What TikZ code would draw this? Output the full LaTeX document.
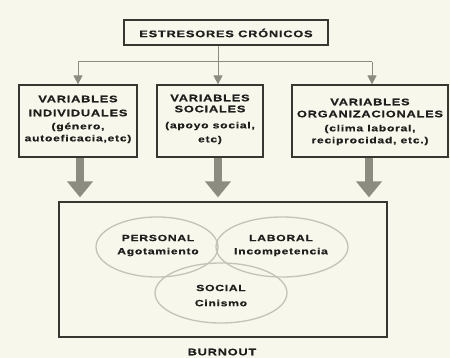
\documentclass[tikz,border=0pt]{standalone}
\usepackage{fontspec}
\setmainfont{Liberation Sans}
\newfontfamily\wide[FakeStretch=1.35,LetterSpace=8,FakeBold=0.6]{Liberation Sans}
\usetikzlibrary{arrows.meta,shapes.geometric,calc}
\definecolor{bg}{RGB}{248,247,236}
\definecolor{boxline}{RGB}{55,55,50}
\definecolor{arr}{RGB}{140,140,128}
\definecolor{ell}{RGB}{195,195,185}
\definecolor{txt}{RGB}{30,30,28}
\tikzset{
  box/.style={draw=boxline, line width=1.2pt, rectangle, inner sep=0pt},
  lbl/.style={font=\wide\bfseries\fontsize{9.5}{11}\selectfont, text=txt, align=center, inner sep=0pt},
  lbs/.style={font=\wide\bfseries\fontsize{9}{11}\selectfont, text=txt, align=center, inner sep=0pt},
  thin/.style={draw=arr, line width=1pt},
  thinarr/.style={thin, -{Triangle[width=9pt 0,length=9pt 0]}},
  fat/.style={draw=arr, line width=8pt, -{Triangle[width=25pt 0,length=16pt 0]}, shorten >=4pt},
  oval/.style={draw=ell, line width=1.3pt, ellipse, inner sep=0pt},
}
\begin{document}
\begin{tikzpicture}[x=1pt,y=-1pt]
\fill[bg] (0,0) rectangle (450,358);
\useasboundingbox (0,0) rectangle (450,358);

\node[box, minimum width=204pt, minimum height=25pt] (top) at (226,32.5) {};
\node[lbl] at (226,33) {ESTRESORES CRÓNICOS};

\node[box, minimum width=118pt, minimum height=72pt] (li) at (78,121) {};
\node[box, minimum width=106pt, minimum height=72pt] (mi) at (210,121) {};
\node[box, minimum width=156pt, minimum height=72pt] (ri) at (370,121) {};

\node[lbl] at (78,99) {VARIABLES};
\node[lbl] at (78,113) {INDIVIDUALES};
\node[lbs] at (78,127) {(género,};
\node[lbs] at (78,139) {autoeficacia,etc)};

\node[lbl] at (210,98) {VARIABLES};
\node[lbl] at (210,109) {SOCIALES};
\node[lbs] at (210,126) {(apoyo social,};
\node[lbs] at (210,140) {etc)};

\node[lbl] at (370,102) {VARIABLES};
\node[lbl] at (370,114) {ORGANIZACIONALES};
\node[lbs] at (370,129) {(clima laboral,};
\node[lbs] at (370,141) {reciprocidad, etc.)};

\coordinate (hl) at (78,62);
\coordinate (hm) at (218,62);
\coordinate (hr) at (372,62);
\draw[thin] (top.south -| hm) -- (hm);
\draw[thin] (hl) -- (hr);
\draw[thinarr] (hl) -- (hl |- li.north);
\draw[thinarr] (hm) -- (hm |- mi.north);
\draw[thinarr] (hr) -- (hr |- ri.north);

\node[box, minimum width=328pt, minimum height=135pt] (burn) at (223,269.5) {};
\node[lbl] (bl) at (222,352) {BURNOUT};

\coordinate (al) at (80,0);
\coordinate (am) at (218,0);
\coordinate (ar) at (369,0);
\draw[fat] (al |- li.south) -- (al |- burn.north);
\draw[fat] (am |- mi.south) -- (am |- burn.north);
\draw[fat] (ar |- ri.south) -- (ar |- burn.north);

\node[oval, minimum width=122pt, minimum height=60pt] (per) at (157,247) {};
\node[oval, minimum width=132pt, minimum height=60pt] (lab) at (282,247) {};
\node[oval, minimum width=132pt, minimum height=60pt] (soc) at (221,293) {};

\node[lbs] at (158,238) {PERSONAL};
\node[lbs] at (158,252) {Agotamiento};
\node[lbs] at (281,238) {LABORAL};
\node[lbs] at (281,252) {Incompetencia};
\node[lbs] at (221,288) {SOCIAL};
\node[lbs] at (221,303) {Cinismo};
\end{tikzpicture}
\end{document}
